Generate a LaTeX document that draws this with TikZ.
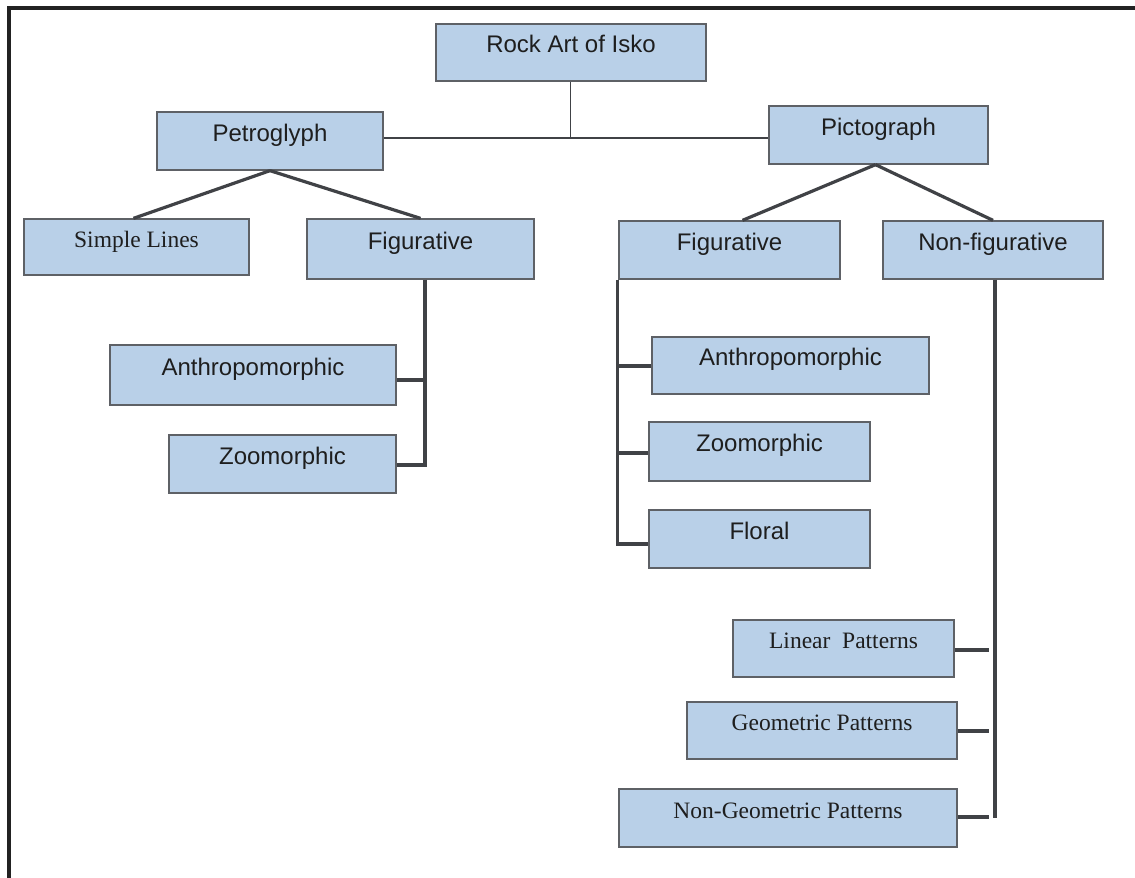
\documentclass[tikz,border=0pt]{standalone}
\usepackage{fontspec}
\setmainfont{Liberation Serif}
\setsansfont{Liberation Sans}
\begin{document}
\begin{tikzpicture}[x=1pt,y=-1pt,
  basebox/.style={draw=boxline, fill=boxfill, line width=1.3pt, inner sep=0pt,
    text=txt, text height=9pt, text depth=9pt, anchor=center},
  sbox/.style={basebox, font=\sffamily\fontsize{24}{28}\selectfont},
  rbox/.style={basebox, font=\rmfamily\fontsize{23.5}{28}\selectfont},
  conn/.style={draw=connc, line width=3.2pt},
  thin/.style={draw=connc, line width=1.4pt},
  frame/.style={draw=framec, line width=4pt}]
\definecolor{boxfill}{HTML}{B9D0E8}
\definecolor{boxline}{HTML}{5E6166}
\definecolor{connc}{HTML}{404246}
\definecolor{framec}{HTML}{222222}
\definecolor{txt}{HTML}{1E1E1E}
\useasboundingbox (0,0) rectangle (1135,878);
\fill[white] (0,0) rectangle (1135,878);
\draw[frame] (8.5,878) -- (8.5,8) -- (1135,8);

\node[sbox, minimum width=270pt, minimum height=57pt] (root) at (571,52.5) {Rock Art of Isko};
\node[sbox, minimum width=226pt, minimum height=58pt] (petro) at (270,141) {Petroglyph};
\node[sbox, minimum width=219pt, minimum height=58pt] (picto) at (878.5,135) {Pictograph};
\node[rbox, minimum width=225pt, minimum height=56pt] (simple) at (136.5,247) {Simple Lines};
\node[sbox, minimum width=227pt, minimum height=60pt] (fig1) at (420.5,249) {Figurative};
\node[sbox, minimum width=221pt, minimum height=58pt] (fig2) at (729.5,250) {Figurative};
\node[sbox, minimum width=220pt, minimum height=58pt] (nonfig) at (993,250) {Non-figurative};
\node[sbox, minimum width=286pt, minimum height=60pt] (anth1) at (253,375) {Anthropomorphic};
\node[sbox, minimum width=227pt, minimum height=58pt] (zoo1) at (282.5,464) {Zoomorphic};
\node[sbox, minimum width=277pt, minimum height=57pt] (anth2) at (790.5,365.5) {Anthropomorphic};
\node[sbox, minimum width=221pt, minimum height=59pt] (zoo2) at (759.5,451.5) {Zoomorphic};
\node[sbox, minimum width=221pt, minimum height=58pt] (floral) at (759.5,539) {Floral};
\node[rbox, minimum width=221pt, minimum height=57pt] (linear) at (843.5,648.5) {Linear\ \ Patterns};
\node[rbox, minimum width=270pt, minimum height=57pt] (geom) at (822,730.5) {Geometric Patterns};
\node[rbox, minimum width=338pt, minimum height=58pt] (nongeom) at (788,818) {Non-Geometric Patterns};

% root connectors
\coordinate (j) at (570.5,138);
\draw[thin] (root.south -| j) -- (j);
\draw[thin] (petro.east |- j) -- (picto.west |- j);

% petroglyph branches
\draw[conn] (petro.south) -- ([xshift=-3pt]simple.north);
\draw[conn] (petro.south) -- (fig1.north);
% pictograph branches
\draw[conn] ([xshift=-3pt]picto.south) -- ([xshift=13pt]fig2.north);
\draw[conn] ([xshift=-3pt]picto.south) -- (nonfig.north);

% petroglyph figurative trunk
\coordinate (t1) at ([xshift=4.5pt]fig1.south);
\draw[conn] (t1) |- ([yshift=-1pt]zoo1.east);
\draw[conn] ([yshift=-5pt]anth1.east) -- ([yshift=-5pt]anth1.east -| t1);

% pictograph figurative trunk
\coordinate (t2) at ([xshift=-1pt]fig2.south west);
\draw[conn] (t2) |- ([yshift=-5pt]floral.west);
\draw[conn] ([yshift=-0.5pt]anth2.west) -- ([yshift=-0.5pt]anth2.west -| t2);
\draw[conn] ([yshift=-1.5pt]zoo2.west) -- ([yshift=-1.5pt]zoo2.west -| t2);

% non-figurative trunk
\coordinate (t3) at ([xshift=2pt]nonfig.south);
\coordinate (t3b) at (t3 |- nongeom.east);
\draw[conn] (t3) -- (t3b);
\draw[conn] ([yshift=-1.5pt]linear.east) -- ([xshift=-6pt,yshift=-1.5pt]linear.east -| t3);
\draw[conn] ([yshift=-0.5pt]geom.east) -- ([xshift=-6pt,yshift=-0.5pt]geom.east -| t3);
\draw[conn] ([yshift=1pt]nongeom.east) -- ([xshift=-6pt,yshift=1pt]nongeom.east -| t3);
\end{tikzpicture}
\end{document}
